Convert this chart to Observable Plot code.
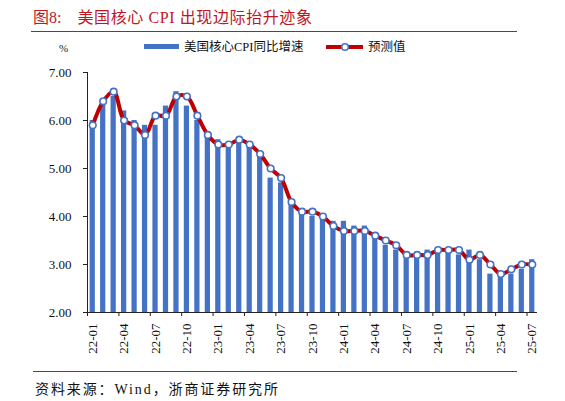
<!DOCTYPE html>
<html>
<head>
<meta charset="utf-8">
<script src="https://cdn.jsdelivr.net/npm/d3@7"></script>
<script src="https://cdn.jsdelivr.net/npm/@observablehq/plot@0.6"></script>
<style>
  html, body { margin: 0; padding: 0; background: #fff; }
  #wrap { position: relative; width: 565px; height: 401px; overflow: hidden; font-family: "Liberation Serif", "Noto Sans CJK SC", serif; }
  #chart { position: absolute; left: 0; top: 0; }
  .abs { position: absolute; white-space: nowrap; }
  #title { left: 33px; top: 4px; font-size: 16px; color: #c0161f; }
  #title .t2 { letter-spacing: 0.6px; }
  #rule1 { left: 31px; top: 31px; width: 486px; height: 1px; background: #c0161f; }
  #rule2 { left: 33px; top: 371px; width: 484px; height: 1px; background: #c0161f; }
  #footer { left: 35px; top: 378px; font-size: 14px; letter-spacing: 1.9px; color: #111; }
  #pct { left: 59px; top: 42px; font-size: 11px; color: #222; }
  #legend { left: 140px; top: 38px; font-size: 12.5px; color: #111; }
</style>
</head>
<body>
<div id="wrap">
  <div id="chart"></div>
  <div class="abs" id="title">图8:&nbsp;&nbsp;&nbsp;&nbsp;<span class="t2">美国核心 CPI 出现边际抬升迹象</span></div>
  <div class="abs" id="rule1"></div>
  <div class="abs" id="pct">%</div>
  <div class="abs" id="legend"></div>
  <div class="abs" id="rule2"></div>
  <div class="abs" id="footer">资料来源：Wind，浙商证券研究所</div>
</div>
<script>
const months = ["22-01","22-02","22-03","22-04","22-05","22-06","22-07","22-08","22-09","22-10","22-11","22-12",
  "23-01","23-02","23-03","23-04","23-05","23-06","23-07","23-08","23-09","23-10","23-11","23-12",
  "24-01","24-02","24-03","24-04","24-05","24-06","24-07","24-08","24-09","24-10","24-11","24-12",
  "25-01","25-02","25-03","25-04","25-05","25-06","25-07"];
const coreCPI = [6.0,6.4,6.5,6.2,6.0,5.9,5.9,6.3,6.6,6.3,6.0,5.7,
  5.6,5.5,5.6,5.5,5.3,4.8,4.7,4.3,4.1,4.0,4.0,3.9,
  3.9,3.8,3.8,3.6,3.4,3.3,3.2,3.2,3.3,3.3,3.3,3.2,
  3.3,3.1,2.8,2.8,2.8,2.9,3.1];
const forecast = [5.9,6.4,6.6,6.0,5.9,5.7,6.1,6.1,6.5,6.5,6.1,5.7,
  5.5,5.5,5.6,5.5,5.3,5.0,4.8,4.3,4.1,4.1,4.0,3.8,
  3.7,3.7,3.7,3.6,3.5,3.4,3.2,3.2,3.2,3.3,3.3,3.3,
  3.1,3.2,3.0,2.8,2.9,3.0,3.0];
const yDomain = [2, 7];
const yTicks = [2, 3, 4, 5, 6, 7];
const seriesNames = ["美国核心CPI同比增速", "预测值"];

const data = months.map((m, i) => ({month: m, core: coreCPI[i], pred: forecast[i]}));
const labelMonths = months.filter((m, i) => i % 3 === 0);

const W = 565, H = 370, mL = 87, mR = 28, mT = 72, mB = 58;
const step = (W - mL - mR) / months.length;

const plot = Plot.plot({
  width: W, height: H,
  marginLeft: mL, marginRight: mR, marginTop: mT, marginBottom: mB,
  style: {fontFamily: "Liberation Serif, serif", fontSize: "13px", color: "#111", background: "white"},
  x: {type: "band", domain: months, paddingInner: 0.5, paddingOuter: 0.25, round: false, label: null},
  y: {domain: yDomain, label: null},
  marks: [
    Plot.barY(data, {x: "month", y1: yDomain[0], y2: "core", fill: "#4472C4"}),
    Plot.line(data, {x: "month", y: "pred", stroke: "#C00000", strokeWidth: 4, curve: "catmull-rom"}),
    Plot.dot(data, {x: "month", y: "pred", r: 3.3, fill: "white", stroke: "#4472C4", strokeWidth: 1.6}),
    Plot.axisY({ticks: yTicks, tickFormat: d3.format(".2f"), tickSize: 4, tickPadding: 12, stroke: "#222", fontSize: 13}),
    Plot.axisX({ticks: labelMonths, tickSize: 4, tickFormat: () => "", dx: -step / 2, stroke: "#222"}),
    Plot.axisX({ticks: labelMonths, tickSize: 0, tickRotate: -90, tickPadding: 11, fontSize: 13}),
    Plot.ruleY([yDomain[0]], {stroke: "#222", strokeWidth: 1}),
    Plot.frame({anchor: "left", stroke: "#222"})
  ]
});
document.getElementById("chart").appendChild(plot);

// legend
const lg = d3.select("#legend").append("svg").attr("width", 280).attr("height", 20)
  .style("font-family", "Liberation Serif, Noto Sans CJK SC, serif").style("font-size", "12.5px");
lg.append("rect").attr("x", 4).attr("y", 6).attr("width", 35).attr("height", 5).attr("fill", "#4472C4");
lg.append("text").attr("x", 44).attr("y", 13).attr("fill", "#111").text(seriesNames[0]);
lg.append("line").attr("x1", 186).attr("x2", 223).attr("y1", 9).attr("y2", 9).attr("stroke", "#C00000").attr("stroke-width", 4);
lg.append("circle").attr("cx", 205).attr("cy", 9).attr("r", 3.3).attr("fill", "white").attr("stroke", "#4472C4").attr("stroke-width", 1.6);
lg.append("text").attr("x", 228).attr("y", 13).attr("fill", "#111").text(seriesNames[1]);
</script>
</body>
</html>
